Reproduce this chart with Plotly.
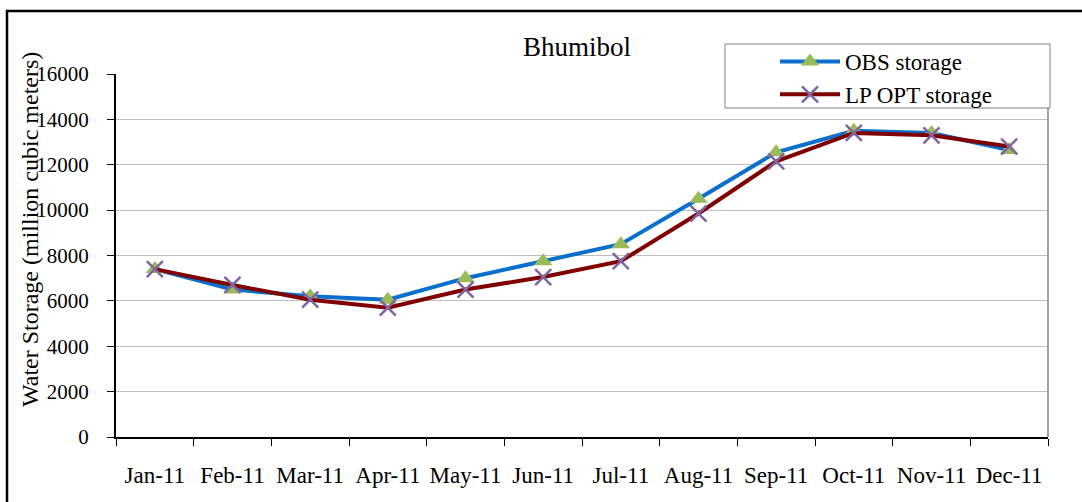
import plotly.graph_objects as go

months = ["Jan-11", "Feb-11", "Mar-11", "Apr-11", "May-11", "Jun-11",
          "Jul-11", "Aug-11", "Sep-11", "Oct-11", "Nov-11", "Dec-11"]
obs_storage = [7400, 6500, 6200, 6050, 7000, 7750, 8500, 10500, 12550, 13500, 13400, 12650]
lp_opt_storage = [7400, 6700, 6050, 5700, 6500, 7050, 7750, 9850, 12150, 13400, 13300, 12800]
y_ticks = [0, 2000, 4000, 6000, 8000, 10000, 12000, 14000, 16000]

FONT = "Times New Roman, Liberation Serif, DejaVu Serif, serif"
W, H = 1082, 502
L, R, T, B = 116, 34, 74, 65
pw, ph = W - L - R, H - T - B

def px(x):
    return (x - L) / pw

def py(y):
    return (H - B - y) / ph

fig = go.Figure()
fig.add_trace(go.Scatter(
    x=months, y=obs_storage, name="OBS storage", mode="lines+markers",
    line=dict(color="#0A70CC", width=4),
    marker=dict(symbol="triangle-up", size=16, color="#9BBB59"),
))
fig.add_trace(go.Scatter(
    x=months, y=lp_opt_storage, name="LP OPT storage", mode="lines+markers",
    line=dict(color="#800000", width=4),
    marker=dict(symbol="x-thin", size=16, line=dict(color="#8064A2", width=2.5)),
))

fig.update_layout(
    width=W, height=H,
    margin=dict(l=L, r=R, t=T, b=B, autoexpand=False),
    paper_bgcolor="white", plot_bgcolor="white",
    font=dict(family=FONT, size=20, color="black"),
    showlegend=True,
    legend=dict(x=px(775), y=py(40), xanchor="left", yanchor="top",
                bgcolor="rgba(0,0,0,0)", borderwidth=0,
                font=dict(size=23, family=FONT), itemwidth=60,
                tracegroupgap=0),
    xaxis=dict(type="category", tickson="boundaries", ticks="outside", ticklen=7,
               tickcolor="black", showline=True, linecolor="black", linewidth=2,
               showgrid=False, ticklabelstandoff=16, tickangle=0, automargin=False,
               tickfont=dict(size=23, family=FONT),
               range=[-0.5, 11.5]),
    yaxis=dict(range=[0, 16000], tickvals=y_ticks, tickformat="d", ticks="outside", ticklen=7,
               tickcolor="black", showline=True, linecolor="black", linewidth=2,
               showgrid=True, gridcolor="#BFBFBF", gridwidth=1, automargin=False,
               zeroline=False, ticklabelstandoff=14,
               tickfont=dict(size=21, family=FONT)),
    annotations=[
        dict(text="Bhumibol", x=px(577), y=py(47), xref="paper", yref="paper",
             showarrow=False, font=dict(size=27, family=FONT),
             xanchor="center", yanchor="middle"),
        dict(text="Water Storage (million cubic meters)", x=px(30), y=py(230),
             xref="paper", yref="paper", showarrow=False, textangle=-90,
             font=dict(size=24, family=FONT), xanchor="center", yanchor="middle"),
    ],
    shapes=[
        dict(type="line", xref="paper", yref="paper", x0=1, x1=1, y0=0, y1=1,
             line=dict(color="#A0A0A0", width=2)),
        dict(type="rect", xref="paper", yref="paper", x0=px(7), x1=px(1100),
             y0=py(520), y1=py(11), line=dict(color="black", width=2.5)),
        dict(type="rect", xref="paper", yref="paper", x0=px(725), x1=px(1050),
             y0=py(108), y1=py(44), fillcolor="white", layer="above",
             line=dict(color="#808080", width=1)),
    ],
)

fig.write_html("out.html", config={"displayModeBar": False},
               post_script="document.body.style.margin='0';")
